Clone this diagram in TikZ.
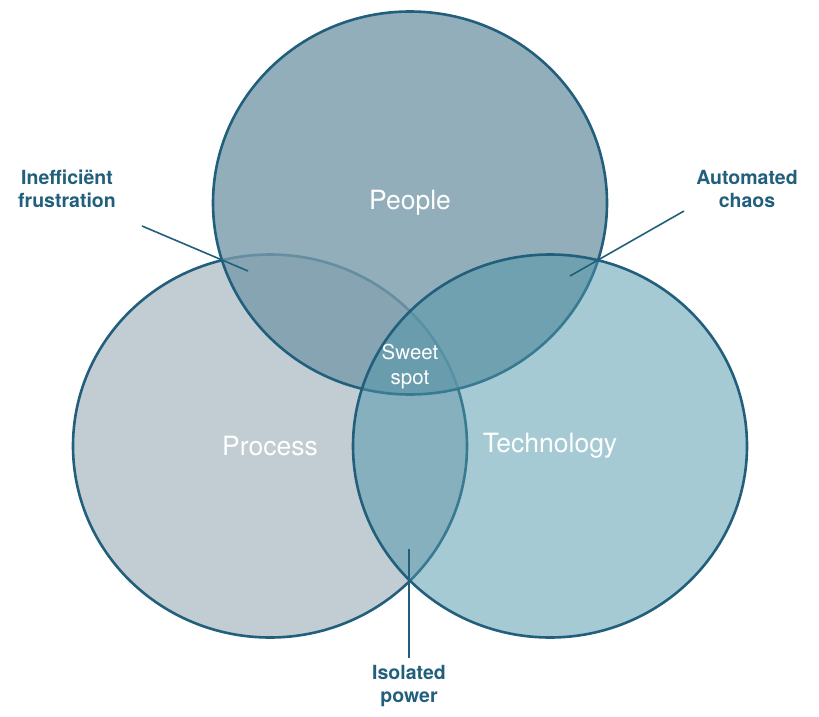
\documentclass[tikz,border=0pt]{standalone}
\usepackage{fontspec}
\setmainfont{TeX Gyre Heros}
\usepackage{xcolor}
\usetikzlibrary{positioning, calc, shapes.geometric}

\definecolor{rim}{RGB}{34,95,124}
\definecolor{peoplefill}{RGB}{120,154,170}
\definecolor{processfill}{RGB}{193,205,211}
\definecolor{techfill}{RGB}{77,149,169}

\begin{document}
\begin{tikzpicture}[
            x=1pt, y=-1pt,
            set/.style={ellipse, draw=rim, line width=2.6pt, minimum width=394pt, minimum height=383pt,
                        inner sep=0pt, text=white, font=\fontsize{26.5}{30}\selectfont},
            note/.style={text=rim, align=center, font=\bfseries\fontsize{19.5}{23}\selectfont},
            leader/.style={draw=rim, line width=1.6pt}
        ]
        \useasboundingbox (0,0) rectangle (819,717);

        % Sets
        \node[set, fill=processfill] (process) at (270,446) {Process};
        \node[set, fill=peoplefill, fill opacity=0.8, text opacity=1] (people) at (410,203) {People};
        \node[set, fill=techfill, fill opacity=0.5, text opacity=1] (tech) at (550,446) {Technology};

        \node[text=white, align=center, font=\fontsize{20.5}{25}\selectfont] (sweet) at (410,367) {Sweet\\spot};

        % Labels
        \node[note] (ineff) at (67,189) {Inefficiënt\\frustration};
        \node[note] (chaos) at (747,189) {Automated\\chaos};
        \node[note] (isolated) at (409,686) {Isolated\\power};

        % Leaders
        \coordinate (ineffA) at (142,226);
        \coordinate (ineffB) at (248,271);
        \coordinate (chaosA) at (684,211);
        \coordinate (chaosB) at (570,276);
        \coordinate (isoA) at (409,549);
        \coordinate (isoB) at (409,658);
        \draw[leader] (ineffA) -- (ineffB);
        \draw[leader] (chaosA) -- (chaosB);
        \draw[leader] (isoA) -- (isoB);

    \end{tikzpicture}
\end{document}
